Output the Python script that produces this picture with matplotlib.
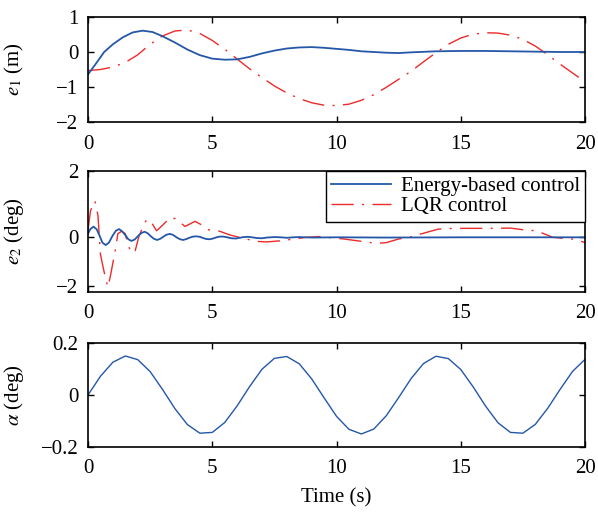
# e1, e2, alpha responses: energy-based control vs LQR control
import numpy as np
import matplotlib.pyplot as plt

plt.rcParams['font.family'] = ['Liberation Serif', 'DejaVu Serif']
plt.rcParams['mathtext.fontset'] = 'stix'
plt.rcParams['font.size'] = 15

# e1 (m)
t_e1_energy = [0, 0.3, 0.65, 1.0, 1.4, 1.8, 2.2, 2.6, 3.0, 3.5, 4.0, 4.5, 5.0, 5.5, 6.0, 6.5,
               7.0, 7.5, 8.0, 8.5, 9.0, 9.5, 10.0, 10.5, 11.0, 11.5, 12.0, 12.5, 13.0, 14.0,
               15.0, 16.0, 17.0, 18.0, 19.0, 20.0]
e1_energy = [-0.64, -0.35, 0.0, 0.22, 0.42, 0.56, 0.61, 0.57, 0.45, 0.27, 0.07, -0.09, -0.19,
             -0.22, -0.21, -0.14, -0.04, 0.04, 0.10, 0.13, 0.14, 0.12, 0.09, 0.06, 0.02, 0.0,
             -0.02, -0.03, -0.01, 0.02, 0.03, 0.03, 0.02, 0.01, 0.0, 0.0]
t_e1_lqr = [0, 0.5, 1.0, 1.5, 2.0, 2.5, 3.0, 3.5, 4.0, 4.5, 5.0, 5.5, 6.0, 6.5, 7.0, 7.5, 8.0,
            8.5, 9.0, 9.5, 10.0, 10.5, 11.0, 11.5, 12.0, 12.5, 13.0, 13.5, 14.0, 14.5, 15.0,
            15.5, 16.0, 16.5, 17.0, 17.5, 18.0, 18.5, 19.0, 19.5, 20.0]
e1_lqr = [-0.53, -0.5, -0.43, -0.3, -0.08, 0.22, 0.46, 0.6, 0.63, 0.53, 0.33, 0.08, -0.2,
          -0.48, -0.73, -0.97, -1.17, -1.33, -1.45, -1.52, -1.53, -1.49, -1.38, -1.22, -1.01,
          -0.78, -0.55, -0.28, -0.02, 0.22, 0.4, 0.51, 0.55, 0.54, 0.48, 0.36, 0.17, -0.08,
          -0.35, -0.6, -0.85]

# e2 (deg)
t_e2_energy = [0, 0.1, 0.22, 0.35, 0.47, 0.58, 0.71, 0.84, 0.98, 1.12, 1.25, 1.38, 1.51, 1.62,
               1.75, 1.88, 2.01, 2.15, 2.28, 2.41, 2.53, 2.65, 2.78, 2.91, 3.04, 3.16, 3.29,
               3.42, 3.56, 3.70, 3.83, 3.96, 4.10, 4.23, 4.36, 4.50, 4.63, 4.76, 4.90, 5.03,
               5.17, 5.30, 5.44, 5.6, 5.77, 5.95, 6.1, 6.27, 6.45, 6.6, 6.8, 7.0, 7.2, 7.5,
               7.75, 8.0, 8.25, 8.5, 9.0, 10.0, 12.0, 15.0, 20.0]
e2_energy = [0.15, 0.35, 0.44, 0.33, 0.05, -0.22, -0.32, -0.22, 0.05, 0.27, 0.34, 0.24, 0.08,
             -0.08, -0.15, -0.09, 0.05, 0.18, 0.23, 0.16, 0.04, -0.06, -0.11, -0.06, 0.03,
             0.11, 0.14, 0.10, 0.0, -0.08, -0.11, -0.07, -0.01, 0.03, 0.04, 0.02, -0.03,
             -0.07, -0.08, -0.05, 0.0, 0.03, 0.03, 0.0, -0.04, -0.05, -0.02, 0.01, 0.02, 0.0,
             -0.03, -0.04, -0.01, 0.01, 0.0, -0.02, 0.0, 0.01, -0.01, 0.0, -0.01, 0.0, 0.0]
t_e2_lqr = [0, 0.1, 0.28, 0.4, 0.5, 0.62, 0.72, 0.8, 0.9, 1.02, 1.12, 1.2, 1.35, 1.5, 1.6,
            1.75, 1.9, 2.05, 2.2, 2.35, 2.5, 2.76, 3.0, 3.15, 3.35, 3.55, 3.9, 4.1, 4.3, 4.6,
            4.85, 5.3, 5.7, 6.2, 6.8, 7.2, 7.8, 8.35, 8.8, 9.3, 10.3, 11.1, 11.6, 12.0, 12.5,
            13.0, 13.4, 14.1, 14.5, 15.0, 16.0, 17.0, 17.6, 18.05, 18.7, 19.1, 19.6, 20.0]
e2_lqr = [0.3, 1.1, 1.5, 0.9, -0.7, -1.3, -1.75, -2.05, -1.6, -0.95, -0.4, 0.15, 0.25, 0.15,
          -0.3, -0.65, -0.55, 0.05, 0.4, 0.72, 0.7, 0.27, 0.5, 0.65, 0.83, 0.75, 0.45, 0.55,
          0.66, 0.5, 0.31, 0.25, 0.1, -0.03, -0.17, -0.19, -0.14, -0.06, 0.0, 0.03, -0.07,
          -0.18, -0.25, -0.22, -0.07, 0.02, 0.14, 0.34, 0.36, 0.37, 0.37, 0.38, 0.3, 0.27,
          0.0, -0.04, -0.08, -0.22]

# alpha (deg), sampled every 0.5 s
t_alpha = [0, 0.5, 1.0, 1.5, 2.0, 2.5, 3.0, 3.5, 4.0, 4.5, 5.0, 5.5, 6.0, 6.5, 7.0, 7.5, 8.0,
           8.5, 9.0, 9.5, 10.0, 10.5, 11.0, 11.5, 12.0, 12.5, 13.0, 13.5, 14.0, 14.5, 15.0,
           15.5, 16.0, 16.5, 17.0, 17.5, 18.0, 18.5, 19.0, 19.5, 20.0]
alpha = [0.0, 0.072, 0.126, 0.150, 0.136, 0.090, 0.021, -0.053, -0.114, -0.147, -0.144,
         -0.106, -0.042, 0.032, 0.099, 0.141, 0.148, 0.120, 0.062, -0.011, -0.082, -0.132,
         -0.150, -0.131, -0.080, -0.010, 0.063, 0.121, 0.149, 0.140, 0.098, 0.031, -0.043,
         -0.107, -0.144, -0.147, -0.113, -0.051, 0.022, 0.091, 0.137]

blue = '#2457a8'
red = '#ee2a2a'
lqr_dash = (16, 6, 1.5, 6)

fig = plt.figure(figsize=(5.98, 5.12), dpi=100)
ax1 = fig.add_axes([0.1472, 0.7617, 0.8311, 0.2051])
ax2 = fig.add_axes([0.1472, 0.4297, 0.8311, 0.2363])
ax3 = fig.add_axes([0.1472, 0.1270, 0.8311, 0.2031])

ax1.plot(t_e1_lqr, e1_lqr, color=red, lw=1.0, dashes=lqr_dash)
ax1.plot(t_e1_energy, e1_energy, color=blue, lw=1.3)
ax1.set_ylim(-2, 1)
ax1.set_yticks([-2, -1, 0, 1])
ax1.set_ylabel('$e_1$ (m)')

l_lqr, = ax2.plot(t_e2_lqr, e2_lqr, color=red, lw=1.0, dashes=lqr_dash, label='LQR control')
l_en, = ax2.plot(t_e2_energy, e2_energy, color=blue, lw=1.3, label='Energy-based control')
ax2.set_ylim(-2.26, 2.74)
ax2.set_yticks([-2, 0, 2.74])
ax2.set_yticklabels(['\u22122', '0', '2'])
ax2.set_ylabel('$e_2$ (deg)')
leg = ax2.legend(handles=[l_en, l_lqr], loc='upper right', borderaxespad=0, fancybox=False,
                 framealpha=1, edgecolor='black', handlelength=2.9, handletextpad=0.45,
                 fontsize=15, borderpad=0.25, labelspacing=0.05)
leg.get_frame().set_linewidth(1.0)

ax3.plot(t_alpha, alpha, color=blue, lw=1.0)
ax3.set_ylim(-0.2, 0.2)
ax3.set_yticks([-0.2, 0, 0.2])
ax3.set_yticklabels(['\u22120.2', '0', '0.2'])
ax3.set_ylabel(r'$\alpha$ (deg)')
ax3.set_xlabel('Time (s)', labelpad=7)

for ax in (ax1, ax2, ax3):
    ax.set_xlim(0, 20)
    ax.set_xticks([0, 5, 10, 15, 20])
    ax.tick_params(direction='in', top=True, right=True, length=4, width=1, pad=7)
    ax.tick_params(axis='x', pad=9)
    for s in ax.spines.values():
        s.set_linewidth(1.2)
    ax.yaxis.set_label_coords(-0.125, 0.5)

fig.savefig('out.png', dpi=100)
